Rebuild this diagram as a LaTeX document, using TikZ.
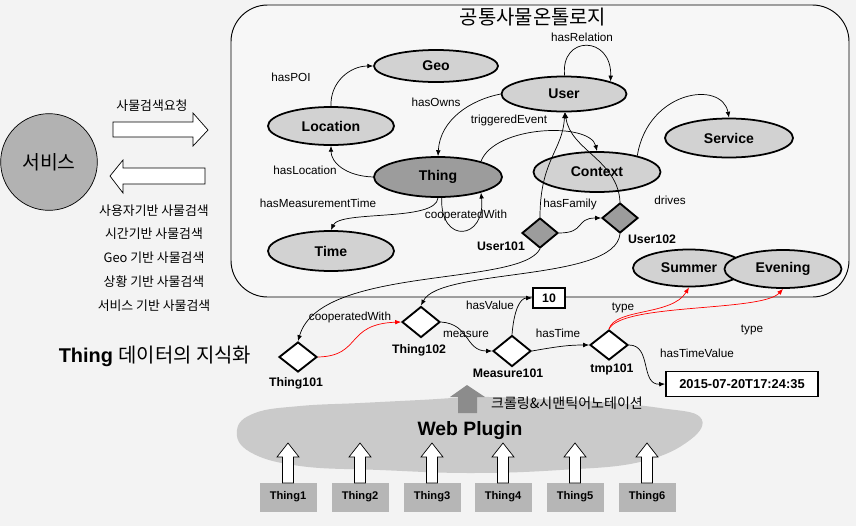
\documentclass[tikz,border=0pt]{standalone}
\usepackage{fontspec}
\setmainfont{Liberation Sans}
\newfontfamily\kr{Noto Sans CJK KR}
\usetikzlibrary{shapes.geometric,arrows.meta}
\definecolor{ellgray}{HTML}{D2D2D2}
\definecolor{darkgray2}{HTML}{9C9C9C}
\definecolor{circgray}{HTML}{B2B2B2}
\definecolor{boxgray}{HTML}{B6B6B6}
\definecolor{cloudgray}{HTML}{CACACA}
\definecolor{arrowgray}{HTML}{8C8C8C}
\definecolor{bggray}{HTML}{F3F3F3}
\begin{document}
\begin{tikzpicture}[x=0.03cm,y=-0.03cm,
  onto/.style={ellipse, draw, line width=1.5pt, fill=ellgray, inner sep=0pt, font=\fontsize{12}{14}\selectfont\bfseries},
  dia/.style={diamond, draw, line width=1.6pt, fill=white, inner sep=0pt, minimum width=1.14cm, minimum height=0.9cm},
  gdia/.style={dia, fill=darkgray2},
  dlabel/.style={font=\fontsize{10.5}{12}\selectfont\bfseries, inner sep=0pt},
  elabel/.style={font=\fontsize{10}{12}\selectfont, inner sep=0pt},
  edgeline/.style={draw, line width=0.6pt, -{Latex[length=5pt,width=4pt]}},
  rededge/.style={edgeline, draw=red},
  valbox/.style={draw, line width=1.6pt, fill=white, font=\fontsize{10.5}{12}\selectfont\bfseries, inner sep=0pt},
  thingbox/.style={fill=boxgray, minimum width=1.71cm, minimum height=0.87cm, inner sep=0pt, font=\fontsize{9.5}{11}\selectfont\bfseries},
  krtext/.style={font=\kr\fontsize{11}{13}\selectfont, inner sep=0pt},
  blockarrow/.style={fill=white, draw, line width=0.6pt, line join=miter}
]
\useasboundingbox (0,0) rectangle (856,526);
\fill[bggray] (0,0) rectangle (856,526);

% ontology frame
\draw[line width=0.8pt, fill=white!97!black, rounded corners=1.1cm] (231,5) rectangle (849,297);
\node[font=\kr\fontsize{17}{19}\selectfont, inner sep=0pt] (title) at (533,17) {공통사물온톨로지};

% service side
\node[circle, draw, line width=0.6pt, fill=circgray, minimum size=2.9cm, inner sep=0pt, font=\kr\fontsize{16.5}{18}\selectfont] (svc) at (49,162) {서비스};
\draw[blockarrow] (113,122) -- (193,122) -- (193,113) -- (208,130) -- (193,146) -- (193,137) -- (113,137) -- cycle;
\draw[blockarrow] (205,168) -- (123,168) -- (123,160) -- (110,176) -- (123,193) -- (123,184) -- (205,184) -- cycle;
\node[krtext] (req) at (152,106) {사물검색요청};
\node[krtext] (s1) at (154,211) {사용자기반 사물검색};
\node[krtext] (s2) at (154,234) {시간기반 사물검색};
\node[krtext] (s3) at (154,258) {Geo 기반 사물검색};
\node[krtext] (s4) at (154,282) {상황 기반 사물검색};
\node[krtext] (s5) at (154,306) {서비스 기반 사물검색};

% ontology classes
\node[onto, minimum width=3.72cm, minimum height=0.96cm] (geo) at (436,66) {Geo};
\node[onto, minimum width=3.78cm, minimum height=1.14cm] (loc) at (331,126) {Location};
\node[onto, minimum width=3.84cm, minimum height=1.2cm, fill=darkgray2] (thing) at (438,177) {Thing};
\node[onto, minimum width=3.78cm, minimum height=1.2cm] (time) at (331,251) {Time};
\node[onto, minimum width=3.75cm, minimum height=1.05cm] (user) at (564,94) {User};
\node[onto, minimum width=3.81cm, minimum height=1.2cm] (context) at (597,172) {Context};
\node[onto, minimum width=3.84cm, minimum height=1.17cm] (service) at (729,138) {Service};
\node[onto, minimum width=3.36cm, minimum height=1.11cm] (summer) at (689,268) {Summer};
\node[onto, minimum width=3.51cm, minimum height=1.14cm] (evening) at (783,269) {Evening};

% instances
\node[gdia, minimum width=1.08cm] (u101) at (540,233) {};
\node[gdia, minimum width=1.08cm] (u102) at (620,218) {};
\node[dia] (t101) at (298,357) {};
\node[dia, minimum height=0.93cm] (t102) at (421,322) {};
\node[dia, minimum height=0.93cm] (m101) at (512,351) {};
\node[dia] (tmp) at (609,345) {};
\node[dlabel] (u101l) at (501,246) {User101};
\node[dlabel] (u102l) at (652,239) {User102};
\node[dlabel] (t101l) at (296,383) {Thing101};
\node[dlabel] (t102l) at (419,350) {Thing102};
\node[dlabel] (m101l) at (508,373) {Measure101};
\node[dlabel] (tmpl) at (612,369) {tmp101};
\node[valbox, minimum width=0.96cm, minimum height=0.6cm] (ten) at (549,298) {10};
\node[valbox, minimum width=4.56cm, minimum height=0.75cm, font=\fontsize{11}{13}\selectfont\bfseries] (date) at (742,384) {2015-07-20T17:24:35};

% ontology edges
\draw[edgeline] (loc.north) .. controls (330,82) and (350,66) .. (geo.west);
\draw[edgeline] (user.west) .. controls (470,100) and (440,120) .. (thing.north);
\draw[edgeline] (thing.west) .. controls (345,176) and (331,162) .. (loc.south);
\draw[edgeline] (thing.south) .. controls (436,222) and (340,210) .. (time.north);
\draw[edgeline] (thing.-80) .. controls (440,245) and (486,240) .. (thing.-20);
\draw[edgeline] (thing.20) .. controls (495,125) and (590,122) .. (context.north);
\draw[edgeline] (user.88) .. controls (560,35) and (612,35) .. (user.15);
\draw[edgeline] (context.22) .. controls (648,90) and (722,80) .. (service.north);
\draw[edgeline] (u101.north) .. controls (540,160) and (563,150) .. (user.-88);
\draw[edgeline] (u102.north) .. controls (618,160) and (570,150) .. (user.-86);
\draw[edgeline] (u101.east) .. controls (586,233) and (575,218) .. (u102.west);
\draw[edgeline] (u101.south) .. controls (520,287) and (320,265) .. (t101.north);
\draw[edgeline] (u102.south) .. controls (615,282) and (440,268) .. (t102.north);

% instance edges
\draw[rededge] (t101.east) .. controls (362,356) and (345,324) .. (t102.west);
\draw[edgeline] (t102.east) .. controls (470,324) and (465,351) .. (m101.west);
\draw[edgeline] (m101.north) .. controls (514,310) and (520,298) .. (ten.west);
\draw[edgeline] (m101.east) .. controls (560,346) and (570,345) .. (tmp.west);
\draw[edgeline] (tmp.east) .. controls (652,345) and (640,385) .. (date.west);
\draw[rededge] (tmp.north) .. controls (615,308) and (672,316) .. (summer.south);
\draw[rededge] (tmp.north) .. controls (622,303) and (762,312) .. (evening.south);

% edge labels
\node[elabel] (lpoi) at (291,77) {hasPOI};
\node[elabel] (lown) at (436,102) {hasOwns};
\node[elabel] (lloc) at (305,170) {hasLocation};
\node[elabel] (lmt) at (318,203) {hasMeasurementTime};
\node[elabel] (lcw) at (466,215) {cooperatedWith};
\node[elabel] (ltr) at (509,120) {triggeredEvent};
\node[elabel] (lrel) at (582,37) {hasRelation};
\node[elabel] (lfam) at (570,204) {hasFamily};
\node[elabel] (ldr) at (670,200) {drives};
\node[elabel] (lcw2) at (350,317) {cooperatedWith};
\node[elabel] (lmeas) at (466,334) {measure};
\node[elabel] (lval) at (490,305) {hasValue};
\node[elabel] (ltime) at (558,333) {hasTime};
\node[elabel] (ltype1) at (623,308) {type};
\node[elabel] (ltype2) at (752,330) {type};
\node[elabel] (ltv) at (697,353) {hasTimeValue};

\node[inner sep=0pt, font=\fontsize{17}{19}\selectfont] (know) at (155,356) {\textbf{Thing} {\kr 데이터의 지식화}};

% web plugin
\fill[cloudgray] plot[smooth cycle, tension=0.7] coordinates {(237,430) (255,413) (300,406) (360,403) (420,400) (480,397) (540,399) (600,402) (660,408) (700,417) (690,440) (640,462) (560,470) (470,473) (380,470) (300,466) (250,452)};
\fill[arrowgray] (467,385) -- (485,397) -- (477,397) -- (477,413) -- (458,413) -- (458,397) -- (450,397) -- cycle;
\node[font=\kr\fontsize{12}{14}\selectfont, inner sep=0pt] (crawl) at (567,403) {크롤링\&시맨틱어노테이션};
\node[font=\fontsize{16.5}{19}\selectfont\bfseries, inner sep=0pt] (web) at (470,431) {Web Plugin};

\foreach \n/\xx in {1/288,2/360,3/432,4/503,5/575,6/647}{
  \node[thingbox] (tb\n) at (\xx,497) {Thing\n};
  \draw[blockarrow] (\xx,443) -- (\xx+11,457) -- (\xx+5.5,457) -- (\xx+5.5,483) -- (\xx-5.5,483) -- (\xx-5.5,457) -- (\xx-11,457) -- cycle;
}
\end{tikzpicture}
\end{document}
